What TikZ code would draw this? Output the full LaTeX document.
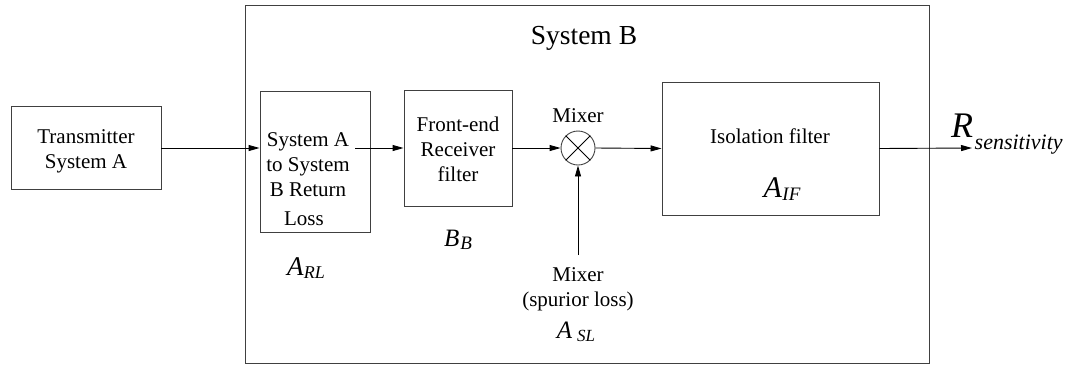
\documentclass[tikz,border=0pt]{standalone}
\usepackage{fontspec}
\setmainfont{Liberation Serif}
\usetikzlibrary{arrows.meta}
\newcommand{\fs}[1]{\fontsize{#1}{#1}\selectfont}
\newcommand{\symlbl}[5]{{\fs{#3}\itshape #1}\kern#5\raisebox{-0.28em}{\fs{#4}\itshape #2}}
\begin{document}
\begin{tikzpicture}[x=1pt,y=-1pt,
  blk/.style={draw=black!75, line width=0.9pt, inner sep=0pt},
  lbl/.style={align=center, inner sep=0pt, font=\fontsize{21pt}{25pt}\selectfont},
  conn/.style={line width=0.9pt, -{Triangle[length=11pt,width=6pt]}},
]
\useasboundingbox (0,0) rectangle (1072,365);
% outer System B box
\node[blk, minimum width=684pt, minimum height=358pt] (sysB) at (587,184) {};
\node[inner sep=0pt, font=\fs{27.5pt}] (title) at (584,38) {System B};
% transmitter
\node[blk, minimum width=150pt, minimum height=83pt] (tx) at (86,148) {};
\node[lbl] (txt) at (86,151) {Transmitter\\System A};
% return loss block
\node[blk, minimum width=110pt, minimum height=141pt] (rl) at (315,161.5) {};
\node[lbl] (rlt) at (308,165) {System A\\to System\\B Return};
\node[lbl] (rlloss) at (304,219) {Loss};
\node[inner sep=0pt] (arl) at (306,268) {\symlbl{A}{RL}{27pt}{18pt}{0.5pt}};
% front-end filter
\node[blk, minimum width=108pt, minimum height=116pt] (fe) at (458,148) {};
\node[lbl] (fet) at (458,149) {Front-end\\Receiver\\filter};
\node[inner sep=0pt] (bb) at (458,240) {\symlbl{B}{B}{25pt}{19pt}{1pt}};
% mixer
\node[draw=black!75, line width=0.9pt, circle, minimum size=34pt, inner sep=0pt] (mix) at (578,148) {};
\draw[line width=0.8pt] (mix.north west) -- (mix.south east) (mix.north east) -- (mix.south west);
\node[lbl] (mixt) at (578,116) {Mixer};
\node[lbl] (slt) at (578,289) {Mixer\\(spurior loss)};
\node[inner sep=0pt] (asl) at (576,332) {\symlbl{A}{SL}{25pt}{17pt}{5pt}};
\coordinate (slin) at (578,255);
% isolation filter
\node[blk, minimum width=217pt, minimum height=133pt] (iso) at (770.5,148.5) {};
\node[lbl] (isot) at (770,136) {Isolation filter};
\node[inner sep=0pt] (aif) at (782,189) {\symlbl{A}{IF}{30pt}{19pt}{0.5pt}};
% output
\coordinate (out) at (972,148);
\node[inner sep=0pt, anchor=base west] (rs) at (951,137) {{\fs{36pt}\itshape R}\kern1.5pt\raisebox{-12pt}{\fs{22pt}\itshape sensitivity}};
% connectors
\draw[conn] (tx.east) -- (tx.east -| rl.west);
\coordinate (rlout) at (355,148);
\draw[conn] (rlout) -- (fe.west);
\draw[conn] (fe.east) -- (mix.west);
\draw[conn] (mix.east) -- (iso.west);
\draw[conn] (slin) -- (mix.south);
\draw[conn] (iso.east) -- (out);
\end{tikzpicture}
\end{document}
